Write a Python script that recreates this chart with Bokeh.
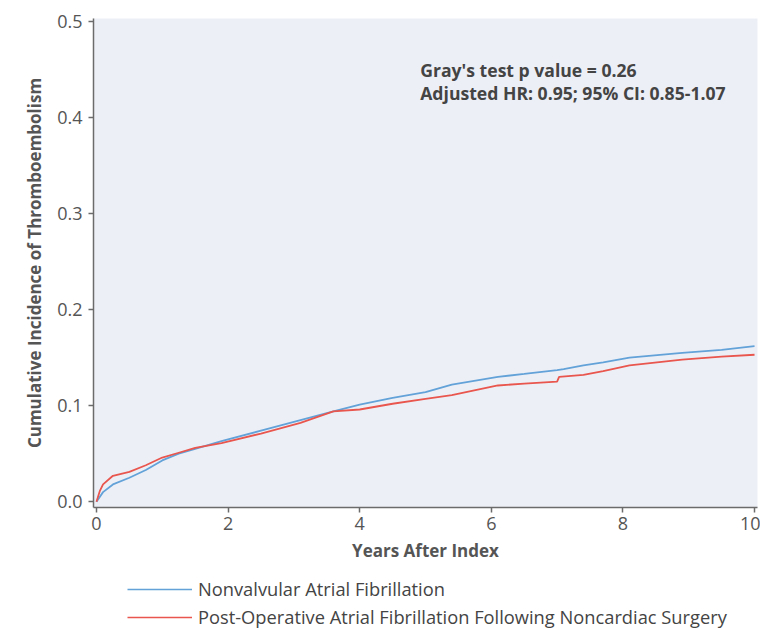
from bokeh.plotting import figure
from bokeh.models import Range1d, Label, Legend, LegendItem, FixedTicker
from bokeh.layouts import column
from bokeh.embed import file_html
from bokeh.resources import INLINE

# ---- data ----
years_nvaf = [0, 0.05, 0.1, 0.25, 0.5, 0.75, 1.0, 1.25, 1.5, 1.9, 2.5, 3.1, 3.6, 4.0,
              4.5, 5.0, 5.4, 6.1, 6.5, 7.0, 7.1, 7.4, 7.7, 8.1, 8.9, 9.5, 10.0]
cum_nvaf = [0, 0.005, 0.010, 0.018, 0.025, 0.033, 0.043, 0.050, 0.055, 0.063, 0.074,
            0.085, 0.094, 0.101, 0.108, 0.114, 0.122, 0.130, 0.133, 0.137, 0.138,
            0.142, 0.145, 0.150, 0.155, 0.158, 0.162]

years_poaf = [0, 0.05, 0.1, 0.25, 0.5, 0.75, 1.0, 1.25, 1.5, 1.9, 2.5, 3.1, 3.6, 4.0,
              4.5, 5.0, 5.4, 6.1, 6.5, 7.0, 7.03, 7.4, 7.7, 8.1, 8.9, 9.5, 10.0]
cum_poaf = [0, 0.011, 0.018, 0.027, 0.031, 0.038, 0.046, 0.051, 0.056, 0.061, 0.071,
            0.082, 0.094, 0.096, 0.102, 0.107, 0.111, 0.121, 0.123, 0.125, 0.130,
            0.132, 0.136, 0.142, 0.148, 0.151, 0.153]

x_ticks = [0, 2, 4, 6, 8, 10]
y_ticks = [0.0, 0.1, 0.2, 0.3, 0.4, 0.5]
y_tick_labels = {0.0: "0.0", 0.1: "0.1", 0.2: "0.2", 0.3: "0.3", 0.4: "0.4", 0.5: "0.5"}

series_names = ["Nonvalvular Atrial Fibrillation",
                "Post-Operative Atrial Fibrillation Following Noncardiac Surgery"]
series_colors = ["#62A2D8", "#E8564D"]
annotation = ["Gray's test p value = 0.26", "Adjusted HR: 0.95; 95% CI: 0.85-1.07"]

FONT = "Open Sans"
GRAY = "#555555"
W = 760

p = figure(width=W, height=575, output_backend="svg", toolbar_location=None,
           x_range=Range1d(-0.045, 10.045), y_range=Range1d(-0.006, 0.503),
           min_border_left=93, min_border_right=3, min_border_top=18,
           min_border_bottom=68)

p.background_fill_color = "#EDEFF7"
p.border_fill_color = "white"
p.outline_line_color = None
p.grid.visible = False

r1 = p.line(years_nvaf, cum_nvaf, line_color=series_colors[0], line_width=1.8)
r2 = p.line(years_poaf, cum_poaf, line_color=series_colors[1], line_width=1.8)

for ax in (p.xaxis[0], p.yaxis[0]):
    ax.axis_line_color = "#6b6b6b"
    ax.axis_line_width = 1.5
    ax.major_tick_line_color = "#6b6b6b"
    ax.major_tick_line_width = 1.5
    ax.major_tick_out = 5
    ax.major_tick_in = 0
    ax.minor_tick_line_color = None
    ax.major_label_text_font = FONT
    ax.major_label_text_font_size = "18px"
    ax.major_label_text_color = GRAY
    ax.axis_label_text_font = FONT
    ax.axis_label_text_font_style = "bold"
    ax.axis_label_text_color = GRAY
    ax.axis_label_text_font_size = "17px"

p.xaxis.ticker = FixedTicker(ticks=x_ticks)
p.yaxis.ticker = FixedTicker(ticks=y_ticks)
p.yaxis.major_label_overrides = y_tick_labels
p.xaxis.axis_label = "Years After Index"
p.yaxis.axis_label = "Cumulative Incidence of Thromboembolism"
p.xaxis.major_label_standoff = 4
p.xaxis.axis_label_standoff = 6
p.yaxis.major_label_standoff = 6
p.yaxis.axis_label_standoff = 8

for i, t in enumerate(annotation):
    p.add_layout(Label(x=4.92, y=0.449 - i * 0.024, text=t, text_font=FONT,
                       text_font_style="bold", text_font_size="17.6px",
                       text_color="#444444", text_baseline="middle"))

# legend panel below the chart (its frame is aligned with the chart's frame)
lg = figure(width=W, height=54, output_backend="svg", toolbar_location=None,
            x_range=Range1d(0, 1), y_range=Range1d(0, 1),
            min_border_left=93, min_border_right=3, min_border_top=0,
            min_border_bottom=0)
lg.axis.visible = False
lg.grid.visible = False
lg.outline_line_color = None
lg.background_fill_color = "white"
# legend key renderers, kept outside the visible range
k1 = lg.line([5, 6], [5, 6], line_color=series_colors[0], line_width=1.3)
k2 = lg.line([5, 6], [5, 6], line_color=series_colors[1], line_width=1.3)

legend = Legend(items=[LegendItem(label=series_names[0], renderers=[k1]),
                       LegendItem(label=series_names[1], renderers=[k2])],
                location=(34, 0), orientation="vertical",
                label_text_font=FONT, label_text_font_size="18.3px",
                label_text_color="#444444", glyph_width=65, glyph_height=20,
                label_height=20, spacing=3, padding=0, margin=0,
                label_standoff=6, border_line_color=None,
                background_fill_alpha=0)
lg.add_layout(legend)

layout = column(p, lg, spacing=0)
open("out.html", "w").write(file_html(layout, INLINE))
